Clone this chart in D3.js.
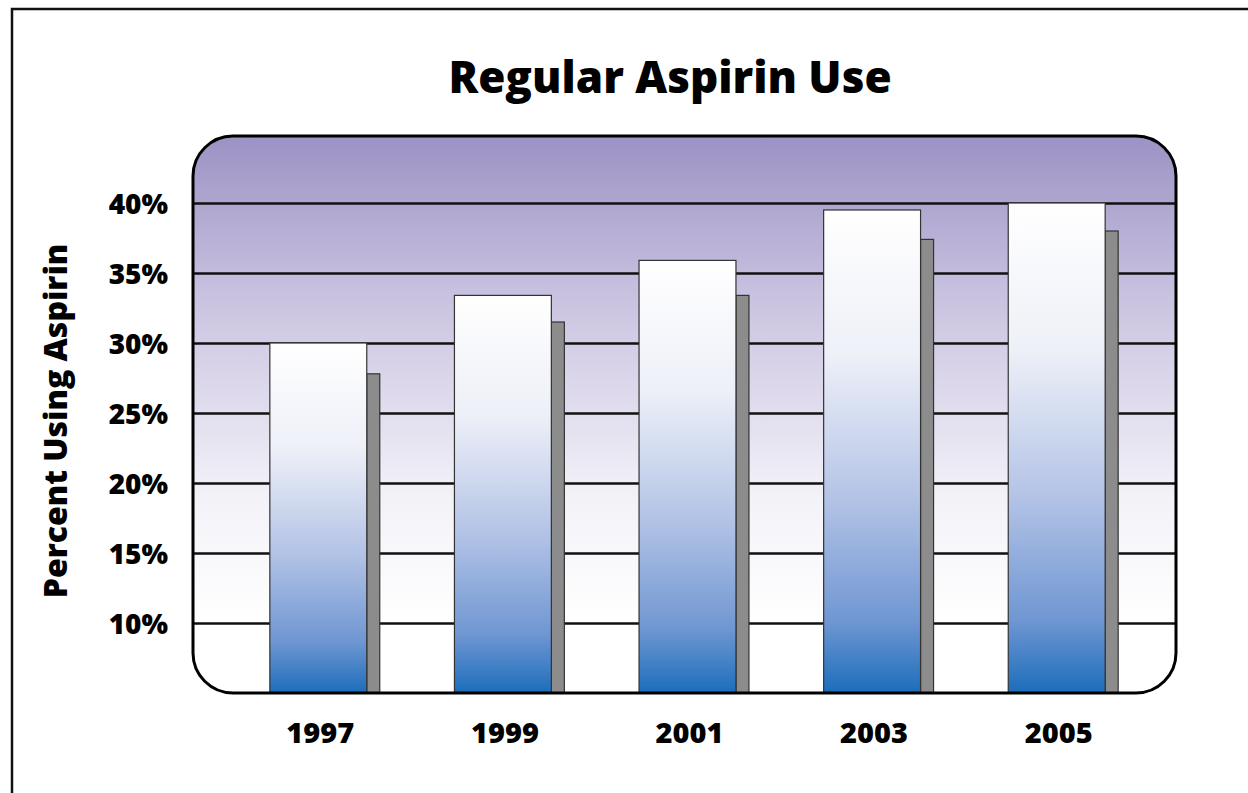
<!DOCTYPE html>
<html>
<head>
<meta charset="utf-8">
<script src="https://cdn.jsdelivr.net/npm/d3@7"></script>
<style>
    body { margin: 0; background: #fff; }
    text { font-family: "Open Sans", "Noto Sans", sans-serif; font-weight: 800; fill: #000; }
</style>
</head>
<body>
<div id="chart"></div>
<script>
// chart data
var years = ["1997", "1999", "2001", "2003", "2005"];
var percentUsing = [30.0, 33.4, 35.9, 39.5, 40.0];
// grey side blocks behind each bar (their tops sit a bit lower)
var shadowTops = [27.8, 31.5, 33.4, 37.4, 38.0];
var yTicks = [10, 15, 20, 25, 30, 35, 40];
var titleText = "Regular Aspirin Use";
var yTitle = "Percent Using Aspirin";

var width = 1248, height = 793;
// plot box
var plot = {left: 193, right: 1176, top: 136, bottom: 693};
var fontStack = "\"Open Sans\", \"Noto Sans\", sans-serif";

var svg = d3.select("#chart").append("svg")
    .attr("width", width)
    .attr("height", height);

var defs = svg.append("defs");

// background gradient: purple top -> white bottom
var bg = defs.append("linearGradient")
    .attr("id", "bgGrad")
    .attr("x1", 0).attr("y1", 0).attr("x2", 0).attr("y2", 1);
bg.append("stop").attr("offset", "0%").attr("stop-color", "#9c92c4");
bg.append("stop").attr("offset", "30%").attr("stop-color", "#cbc4e1");
bg.append("stop").attr("offset", "65%").attr("stop-color", "#f3f2f8");
bg.append("stop").attr("offset", "88%").attr("stop-color", "#ffffff");
bg.append("stop").attr("offset", "100%").attr("stop-color", "#ffffff");

// bar gradient: white top -> blue bottom
var bar = defs.append("linearGradient")
    .attr("id", "barGrad")
    .attr("x1", 0).attr("y1", 0).attr("x2", 0).attr("y2", 1);
bar.append("stop").attr("offset", "0%").attr("stop-color", "#ffffff");
bar.append("stop").attr("offset", "30%").attr("stop-color", "#eef0f8");
bar.append("stop").attr("offset", "60%").attr("stop-color", "#b3c3e6");
bar.append("stop").attr("offset", "85%").attr("stop-color", "#7097d2");
bar.append("stop").attr("offset", "100%").attr("stop-color", "#1c6dbb");

defs.append("clipPath").attr("id", "plotClip")
    .append("rect")
    .attr("x", plot.left).attr("y", plot.top)
    .attr("width", plot.right - plot.left)
    .attr("height", plot.bottom - plot.top)
    .attr("rx", 40).attr("ry", 40);

// outer frame (top and left edges)
svg.append("path")
    .attr("d", "M12," + height + "V9H" + width)
    .attr("fill", "none")
    .attr("stroke", "#111")
    .attr("stroke-width", 2.5);

// scales
var x = d3.scaleBand()
    .domain(years)
    .range([226, 1149])
    .paddingInner(0.475)
    .paddingOuter(0.2375);

var y = d3.scaleLinear()
    .domain([5, 5 + (plot.bottom - plot.top) / 14])
    .range([plot.bottom, plot.top]);

// plot background
svg.append("rect")
    .attr("x", plot.left).attr("y", plot.top)
    .attr("width", plot.right - plot.left)
    .attr("height", plot.bottom - plot.top)
    .attr("rx", 40).attr("ry", 40)
    .attr("fill", "url(#bgGrad)");

var inner = svg.append("g").attr("clip-path", "url(#plotClip)");

// gridlines
inner.append("g")
    .attr("transform", "translate(" + plot.left + ",0)")
    .call(d3.axisLeft(y).tickValues(yTicks).tickSize(-(plot.right - plot.left)).tickFormat(""))
    .call(function(g) { g.select(".domain").remove(); })
    .selectAll("line")
    .attr("stroke", "#111")
    .attr("stroke-width", 2.5);

// shadow blocks
var shadowW = 13;
inner.selectAll(".shadow")
    .data(years)
    .enter().append("rect")
    .attr("class", "shadow")
    .attr("x", function(d) { return x(d) + x.bandwidth(); })
    .attr("y", function(d, i) { return y(shadowTops[i]); })
    .attr("width", shadowW)
    .attr("height", function(d, i) { return plot.bottom - y(shadowTops[i]); })
    .attr("fill", "#8c8c8c")
    .attr("stroke", "#333")
    .attr("stroke-width", 1.2);

// bars
inner.selectAll(".bar")
    .data(years)
    .enter().append("rect")
    .attr("class", "bar")
    .attr("x", function(d) { return x(d); })
    .attr("y", function(d, i) { return y(percentUsing[i]); })
    .attr("width", x.bandwidth())
    .attr("height", function(d, i) { return plot.bottom - y(percentUsing[i]); })
    .attr("fill", "url(#barGrad)")
    .attr("stroke", "#333")
    .attr("stroke-width", 1.2);

// plot border
svg.append("rect")
    .attr("x", plot.left).attr("y", plot.top)
    .attr("width", plot.right - plot.left)
    .attr("height", plot.bottom - plot.top)
    .attr("rx", 40).attr("ry", 40)
    .attr("fill", "none")
    .attr("stroke", "#000")
    .attr("stroke-width", 3);

// y tick labels
var yAxis = svg.append("g")
    .attr("transform", "translate(168,0)")
    .call(d3.axisLeft(y).tickValues(yTicks).tickSize(0).tickPadding(0)
        .tickFormat(function(d) { return d + "%"; }));
yAxis.select(".domain").remove();
yAxis.selectAll("text")
    .attr("dy", "0.36em")
    .style("font-size", "28px")
    .style("font-family", fontStack)
    .style("font-weight", "800")
    .attr("fill", "#000");

// x tick labels
var xAxis = svg.append("g")
    .attr("transform", "translate(2," + (plot.bottom + 29) + ")")
    .call(d3.axisBottom(x).tickSize(0).tickPadding(0));
xAxis.select(".domain").remove();
xAxis.selectAll("text")
    .attr("dy", "0.71em")
    .style("font-size", "29px")
    .style("font-family", fontStack)
    .style("font-weight", "800")
    .attr("fill", "#000");

// title
svg.append("text")
    .attr("x", 670)
    .attr("y", 93)
    .attr("text-anchor", "middle")
    .style("font-size", "44px")
    .text(titleText);

// y axis title
svg.append("text")
    .attr("transform", "translate(67,421) rotate(-90)")
    .attr("text-anchor", "middle")
    .style("font-size", "32px")
    .text(yTitle);
</script>
</body>
</html>
